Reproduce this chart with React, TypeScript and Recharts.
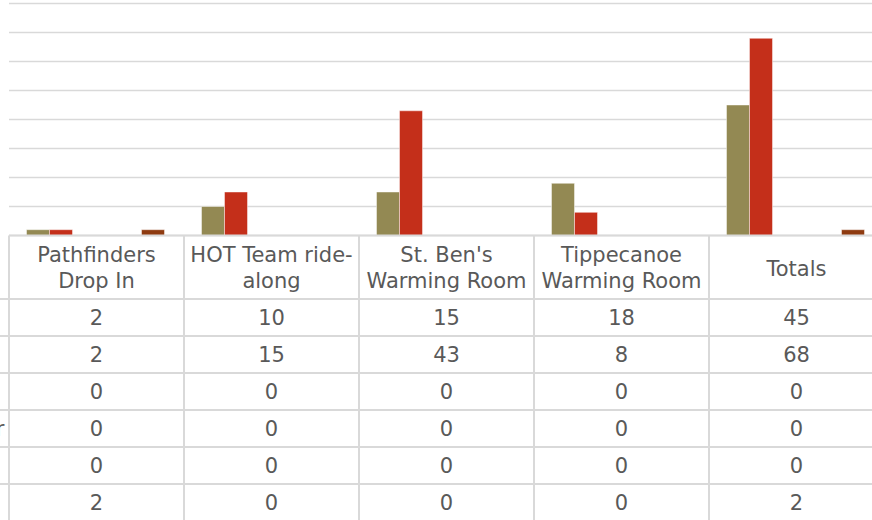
import React from 'react';
import { BarChart, Bar, XAxis, YAxis, CartesianGrid } from 'recharts';

// ---- data ----
const categories = ['Pathfinders Drop In', 'HOT Team ride-along', "St. Ben's Warming Room", 'Tippecanoe Warming Room', 'Totals'];
const categoryLines = [['Pathfinders', 'Drop In'], ['HOT Team ride-', 'along'], ["St. Ben's", 'Warming Room'], ['Tippecanoe', 'Warming Room'], ['Totals']];
const seriesNames = ['Unduplicated', 'Duplicated', 'Housed', 'Emergency Shelter', 'Detox', 'Hospital'];
const series1 = [2, 10, 15, 18, 45];
const series2 = [2, 15, 43, 8, 68];
const series3 = [0, 0, 0, 0, 0];
const series4 = [0, 0, 0, 0, 0];
const series5 = [0, 0, 0, 0, 0];
const series6 = [2, 0, 0, 0, 2];
const seriesValues = [series1, series2, series3, series4, series5, series6];
const seriesColors = ['#938953', '#C42F1A', '#D97B2B', '#5E7C3A', '#6B8FB3', '#8E3A10'];
const yTicks = [0, 10, 20, 30, 40, 50, 60, 70, 80];

const data = categories.map((c, i) => {
  const row: Record<string, string | number> = { name: c };
  seriesNames.forEach((s, j) => { row[s] = seriesValues[j][i]; });
  return row;
});

// ---- layout ----
const SHIFT = 200;
const CHART_W = 1100;
const CHART_H = 520;
const MARGIN = { top: 3.5, left: 209, right: 16, bottom: 0 };
const PLOT_W = CHART_W - MARGIN.left - MARGIN.right;
const BAND = PLOT_W / categories.length;
const HEADER_H = 63.5;
const ROW_H = 37;
const AXIS_H = 284.5;
const LINE = '#D9D9D9';
const TEXT = '#595959';
const FONT = "'DejaVu Sans', sans-serif";
const FS = 21;

const TableTick = (props: any) => {
  const { x, y, index } = props;
  const left = x - BAND / 2;
  const right = x + BAND / 2;
  const lines = categoryLines[index] || [];
  const bottom = y + HEADER_H + ROW_H * seriesNames.length + 10;
  return (
    <g>
      {index === 0 && (
        <g>
          {seriesNames.map((s, r) => {
            const top = y + HEADER_H + r * ROW_H;
            return (
              <g key={s}>
                <rect x={left - 220} y={top + 13} width={10} height={10} fill={seriesColors[r]} />
                <text x={left - 205} y={top + 26} fill={TEXT} fontFamily={FONT} fontSize={FS}>{s}</text>
              </g>
            );
          })}
          {seriesNames.map((s, r) => (
            <line key={'h' + r} x1={left - 230} x2={left} y1={y + HEADER_H + r * ROW_H} y2={y + HEADER_H + r * ROW_H} stroke={LINE} strokeWidth={2} />
          ))}
          <line x1={left} x2={left} y1={y} y2={bottom} stroke={LINE} strokeWidth={2} />
        </g>
      )}
      <line x1={right} x2={right} y1={y} y2={bottom} stroke={LINE} strokeWidth={2} />
      {seriesNames.map((s, r) => (
        <line key={'r' + r} x1={left} x2={right} y1={y + HEADER_H + r * ROW_H} y2={y + HEADER_H + r * ROW_H} stroke={LINE} strokeWidth={2} />
      ))}
      {lines.length === 1 ? (
        <text x={x} y={y + 40} textAnchor="middle" fill={TEXT} fontFamily={FONT} fontSize={FS}>{lines[0]}</text>
      ) : (
        lines.map((l, k) => (
          <text key={k} x={x} y={y + 26.5 + k * 26} textAnchor="middle" fill={TEXT} fontFamily={FONT} fontSize={FS}>{l}</text>
        ))
      )}
      {seriesValues.map((vals, r) => (
        <text key={'v' + r} x={x} y={y + HEADER_H + r * ROW_H + 26} textAnchor="middle" fill={TEXT} fontFamily={FONT} fontSize={FS}>{vals[index]}</text>
      ))}
    </g>
  );
};

export default function App() {
  return (
    <div style={{ position: 'absolute', left: 0, top: 0, width: 872, height: 520, overflow: 'hidden', background: '#fff' }}>
      <div style={{ position: 'absolute', left: -SHIFT, top: 0 }}>
        <BarChart width={CHART_W} height={CHART_H} data={data} margin={MARGIN} barGap={0} barCategoryGap="10%">
          <CartesianGrid vertical={false} horizontal={true} stroke={LINE} strokeWidth={1.5} />
          <YAxis hide domain={[0, 80]} ticks={yTicks} width={0} />
          <XAxis
            dataKey="name"
            height={AXIS_H}
            interval={0}
            tickLine={false}
            tickSize={0}
            tickMargin={0}
            axisLine={{ stroke: LINE, strokeWidth: 2 }}
            tick={<TableTick />}
          />
          {seriesNames.map((s, i) => (
            <Bar key={s} dataKey={s} fill={seriesColors[i]} stroke="rgba(255,255,255,0.45)" strokeWidth={1} isAnimationActive={false} />
          ))}
        </BarChart>
      </div>
    </div>
  );
}
